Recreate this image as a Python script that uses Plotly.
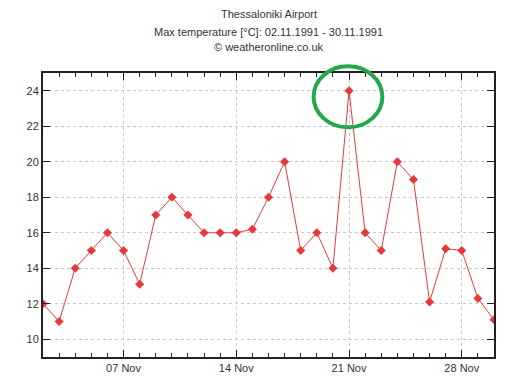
import plotly.graph_objects as go

dates = ["1991-11-%02d" % d for d in range(2, 31)]
temps = [12, 11, 14, 15, 16, 15, 13.1, 17, 18, 17, 16, 16, 16, 16.2, 18, 20,
         15, 16, 14, 24, 16, 15, 20, 19, 12.1, 15.1, 15, 12.3, 11.1]
title_lines = ["Thessaloniki Airport",
               "Max temperature [°C]: 02.11.1991 - 30.11.1991",
               "© weatheronline.co.uk"]
y_range = [9, 25]

red = "#e8383d"
fig = go.Figure()
fig.add_trace(go.Scatter(
    x=dates, y=temps, mode="lines+markers",
    line=dict(color=red, width=1),
    marker=dict(symbol="diamond", size=7, color=red),
    hoverinfo="x+y", showlegend=False))

# highlight ellipse around the maximum (paper coords so it is not clipped)
imax = temps.index(max(temps))
ndays = len(dates) - 1
def px(d):
    return d / ndays
def py(v):
    return (v - y_range[0]) / (y_range[1] - y_range[0])
fig.add_shape(type="circle", xref="paper", yref="paper",
              x0=px(imax - 2.2), x1=px(imax + 2.07),
              y0=py(max(temps) - 2.06), y1=py(max(temps) + 1.38),
              line=dict(color="#22a84a", width=4))

font = dict(family="Liberation Sans, Arial, sans-serif", size=11, color="#333333")
shifts = [58.7, 41.5, 26]
for t, s in zip(title_lines, shifts):
    fig.add_annotation(text=t, xref="paper", yref="paper", x=0.5, y=1,
                       yshift=s, xanchor="center", yanchor="middle",
                       showarrow=False, font=font)

fig.update_xaxes(
    type="date", range=[dates[0], dates[-1]], automargin=False,
    tick0="1991-11-07", dtick=7 * 86400000, tickformat="%d %b",
    ticks="inside", ticklen=7, tickcolor="#222", tickwidth=1,
    showline=True, linecolor="#222", linewidth=2, mirror="ticks",
    showgrid=True, gridcolor="#c8c8c8", griddash="dot", gridwidth=1,
    minor=dict(dtick=86400000, tick0=dates[0], ticks="inside", ticklen=4,
               tickcolor="#222", showgrid=False),
    tickfont=font, zeroline=False)
fig.update_yaxes(
    range=y_range, tick0=10, dtick=2, automargin=False,
    ticks="inside", ticklen=7, tickcolor="#222", tickwidth=1,
    showline=True, linecolor="#222", linewidth=2, mirror="ticks",
    showgrid=True, gridcolor="#c8c8c8", griddash="dot", gridwidth=1,
    tickfont=font, zeroline=False)

# page body adds an 8px margin, so the figure is sized to fit the window
fig.update_layout(width=512, height=382, margin=dict(l=35, r=26, t=65, b=33),
                  paper_bgcolor="white", plot_bgcolor="white", font=font)
fig.write_html("out.html")
